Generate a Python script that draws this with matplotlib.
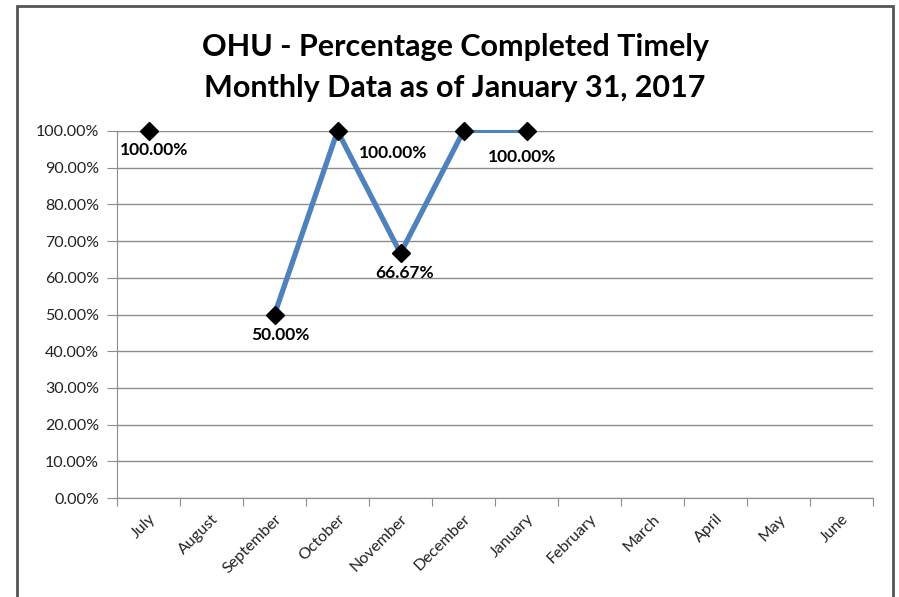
import numpy as np
import matplotlib
matplotlib.use('Agg')
import matplotlib.pyplot as plt
from matplotlib.patches import Rectangle
from matplotlib.ticker import PercentFormatter

plt.rcParams['font.family'] = ['Lato', 'DejaVu Sans']

months = ['July', 'August', 'September', 'October', 'November', 'December',
          'January', 'February', 'March', 'April', 'May', 'June']
pct = [100.0, np.nan, 50.0, 100.0, 66.67, 100.0, 100.0,
       np.nan, np.nan, np.nan, np.nan, np.nan]
# data label offsets (points) for the labelled months
label_offsets = {0: (4, -14), 2: (4, -15), 3: (40, -16), 4: (3, -14), 5: (42, -19)}

fig = plt.figure(figsize=(8.99, 5.97), dpi=100)
ax = fig.add_axes([117/899, 1-498/597, 756/899, 367/597])

x = np.arange(len(months))
y = np.array(pct)
blue = '#4F81BD'
ax.plot(x[:6], y[:6], color=blue, lw=3.8, solid_joinstyle='miter', zorder=3,
        clip_on=False)
ax.plot(x[5:7], y[5:7], color=blue, lw=2.2, zorder=3, clip_on=False)
ax.plot(x, y, ls='none', marker='D', ms=9, color='black', zorder=4,
        clip_on=False)

for i, (dx, dy) in label_offsets.items():
    ax.annotate(f'{y[i]:.2f}%', (x[i], y[i]), xytext=(dx, dy),
                textcoords='offset points', ha='center', va='center',
                fontsize=12.5, fontweight='bold', color='black', zorder=5)

ax.set_xlim(-0.5, len(months) - 0.5)
ax.set_ylim(0, 100)
ax.set_yticks(np.arange(0, 101, 10))
ax.yaxis.set_major_formatter(PercentFormatter(decimals=2))
ax.yaxis.grid(True, color='#8c8c8c', lw=1)
ax.set_axisbelow(True)

ax.set_xticks(np.arange(len(months) + 1) - 0.5, minor=False)
ax.set_xticklabels([])
ax.set_xticks(x, minor=True)
ax.set_xticklabels(months, minor=True, rotation=45, ha='right', va='top',
                   rotation_mode='anchor', fontsize=11.5, color='#222222')
ax.tick_params(axis='x', which='major', length=6, direction='out', color='#8c8c8c')
ax.tick_params(axis='x', which='minor', length=0, pad=10)
ax.tick_params(axis='y', length=7, color='#8c8c8c', labelsize=11.5,
               labelcolor='#222222', pad=6)

for side in ['top', 'right']:
    ax.spines[side].set_visible(False)
for side in ['left', 'bottom']:
    ax.spines[side].set_color('#8c8c8c')

fig.text(455/899, 1-47/597, 'OHU - Percentage Completed Timely', ha='center',
         va='center', fontsize=22, fontweight='bold')
fig.text(455/899, 1-88/597, 'Monthly Data as of January 31, 2017', ha='center',
         va='center', fontsize=22, fontweight='bold')

fig.patches.append(Rectangle((17/899, -0.05), 876/899, 1.05 - 6/597,
                             transform=fig.transFigure, fill=False,
                             edgecolor='#555555', lw=2))

fig.savefig('out.png', dpi=100)
